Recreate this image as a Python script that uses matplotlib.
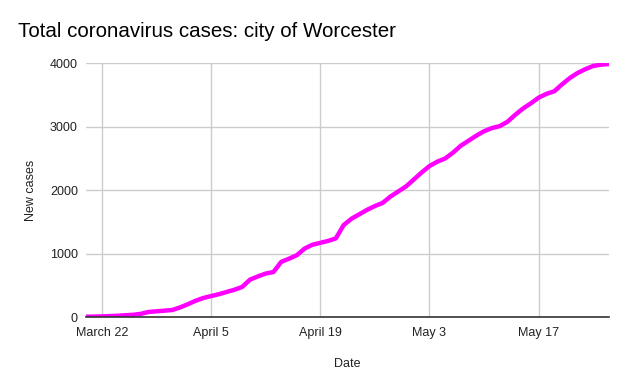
import pandas as pd
import matplotlib.pyplot as plt
import matplotlib.dates as mdates

plt.rcParams['font.family'] = ['Liberation Sans', 'DejaVu Sans']

# Daily totals, March 20 - May 26
start_date = '2020-03-20'
cases = [5, 7, 10, 15, 20, 28, 35, 50, 80, 90, 100, 110, 150, 200, 255, 300,
         330, 360, 395, 430, 475, 590, 640, 685, 710, 870, 920, 975, 1080, 1140,
         1170, 1200, 1240, 1450, 1550, 1620, 1690, 1750, 1800, 1900, 1980, 2060,
         2170, 2280, 2380, 2450, 2500, 2590, 2700, 2780, 2860, 2930, 2980, 3010,
         3080, 3190, 3290, 3370, 3460, 3520, 3560, 3670, 3770, 3850, 3910, 3960,
         3980, 3990]
tick_dates = ['2020-03-22', '2020-04-05', '2020-04-19', '2020-05-03', '2020-05-17']
tick_labels = ['March 22', 'April 5', 'April 19', 'May 3', 'May 17']
y_ticks = [0, 1000, 2000, 3000, 4000]

dates = pd.date_range(start_date, periods=len(cases))

fig = plt.figure(figsize=(6.29, 3.89), dpi=100)
ax = fig.add_axes([0.137, 0.185, 0.831, 0.652])

ax.plot(dates, cases, color='#ff00ff', linewidth=3.2, solid_joinstyle='round')

ax.set_xlim(dates[0], dates[-1])
ax.set_ylim(0, 4000)
ax.set_xticks(pd.to_datetime(tick_dates))
ax.set_xticklabels(tick_labels)
ax.set_yticks(y_ticks)
ax.grid(True, color='#cccccc', linewidth=1)
ax.set_axisbelow(True)
ax.tick_params(length=0, labelsize=9, colors='#222222')
ax.tick_params(axis='x', pad=7)
ax.tick_params(axis='y', pad=6)

for s in ['top', 'right', 'left']:
    ax.spines[s].set_visible(False)
ax.spines['bottom'].set_color('#333333')
ax.spines['bottom'].set_linewidth(1.2)
ax.spines['bottom'].set_zorder(3)

ax.set_xlabel('Date', fontsize=9, color='#222222')
ax.set_ylabel('New cases', fontsize=9, color='#222222')
ax.xaxis.set_label_coords(0.5, -0.161)
ax.yaxis.set_label_coords(-0.094, 0.5)

fig.text(0.0286, 0.918, 'Total coronavirus cases: city of Worcester',
         fontsize=14.8, va='center', ha='left', color='#000000')

fig.savefig('out.png', dpi=100)
